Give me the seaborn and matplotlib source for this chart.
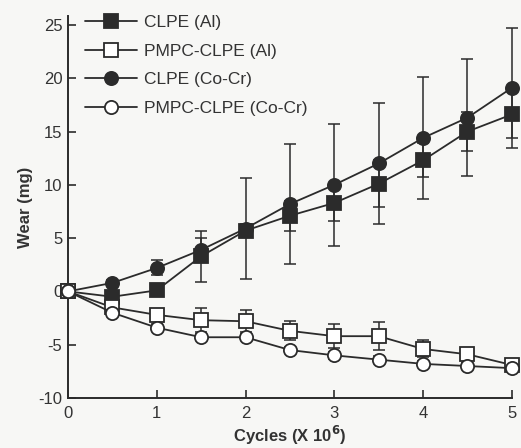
import numpy as np
import seaborn as sns
from matplotlib import pyplot as plt

# wear data (mg), cycles in millions
cycles = [0, 0.5, 1, 1.5, 2, 2.5, 3, 3.5, 4, 4.5, 5]

clpe_al = [0, -0.5, 0.1, 3.3, 5.7, 7.1, 8.3, 10.1, 12.3, 15.0, 16.6]
clpe_al_err = [0, 0.3, 0.4, 2.4, 0.6, 1.4, 1.7, 2.2, 1.6, 1.8, 2.2]

pmpc_al = [0, -1.5, -2.2, -2.7, -2.8, -3.7, -4.2, -4.2, -5.4, -5.9, -6.9]
pmpc_al_err = [0, 0.3, 0.5, 1.1, 1.05, 0.9, 1.1, 1.3, 0.8, 0.4, 0.3]

clpe_cocr = [0, 0.8, 2.2, 3.9, 5.9, 8.2, 10.0, 12.0, 14.4, 16.3, 19.1]
clpe_cocr_err = [0, 0.3, 0.7, 1.1, 4.7, 5.6, 5.7, 5.7, 5.7, 5.5, 5.6]

pmpc_cocr = [0, -2.0, -3.4, -4.3, -4.3, -5.5, -6.0, -6.4, -6.8, -7.0, -7.2]
pmpc_cocr_err = [0, 0.2, 0.3, 0.3, 0.3, 0.3, 0.3, 0.3, 0.3, 0.3, 0.3]

labels = ['CLPE (Al)', 'PMPC-CLPE (Al)', 'CLPE (Co-Cr)', 'PMPC-CLPE (Co-Cr)']

sns.set_style("ticks")
plt.rcParams['font.family'] = ['Liberation Sans', 'DejaVu Sans']
plt.rcParams['axes.unicode_minus'] = False

ink = '#2b2b2b'
fig = plt.figure(figsize=(5.21, 4.48), dpi=100, facecolor='#f7f7f5')
ax = fig.add_axes([0.1305, 0.1116, 0.852, 0.8518])
ax.set_facecolor('#f7f7f5')

series = [
    (clpe_al, clpe_al_err, 's', ink),
    (pmpc_al, pmpc_al_err, 's', 'white'),
    (clpe_cocr, clpe_cocr_err, 'o', ink),
    (pmpc_cocr, pmpc_cocr_err, 'o', 'white'),
]

for (vals, err, mk, face), lab in zip(series, labels):
    ax.errorbar(cycles, vals, yerr=err, fmt='none', ecolor=ink, elinewidth=1.1,
                capsize=4.3, capthick=1.1, zorder=2, clip_on=False)
    sns.lineplot(x=cycles, y=vals, marker=mk, color=ink, mfc=face, mec=ink,
                 ms=9.5, mew=1.3, lw=1.3, label=lab, ax=ax, zorder=3, clip_on=False)

ax.set_xlim(0, 5)
ax.set_ylim(-10, 25.8)
ax.set_xticks([0, 1, 2, 3, 4, 5])
ax.set_yticks([-10, -5, 0, 5, 10, 15, 20, 25])

sns.despine(ax=ax)
for s in ['left', 'bottom']:
    ax.spines[s].set_linewidth(1.4)
    ax.spines[s].set_color(ink)
ax.tick_params(direction='in', length=6, width=1.2, color=ink,
               labelsize=12, labelcolor='#333333')
ax.tick_params(axis='x', pad=6)
ax.tick_params(axis='y', pad=4)

ax.set_xlabel(r'Cycles (X 10$^\mathbf{6}$)', fontsize=12, fontweight='bold',
              color='#333333', labelpad=2)
ax.set_ylabel('Wear (mg)', fontsize=12, fontweight='bold', color='#333333',
              labelpad=4)

ax.legend(loc='upper left', bbox_to_anchor=(0.003, 1.045), frameon=False,
          fontsize=12.5, handlelength=3.0, handletextpad=0.4,
          labelspacing=0.78, labelcolor='#333333')

plt.savefig("out.png", dpi=100, facecolor=fig.get_facecolor())
